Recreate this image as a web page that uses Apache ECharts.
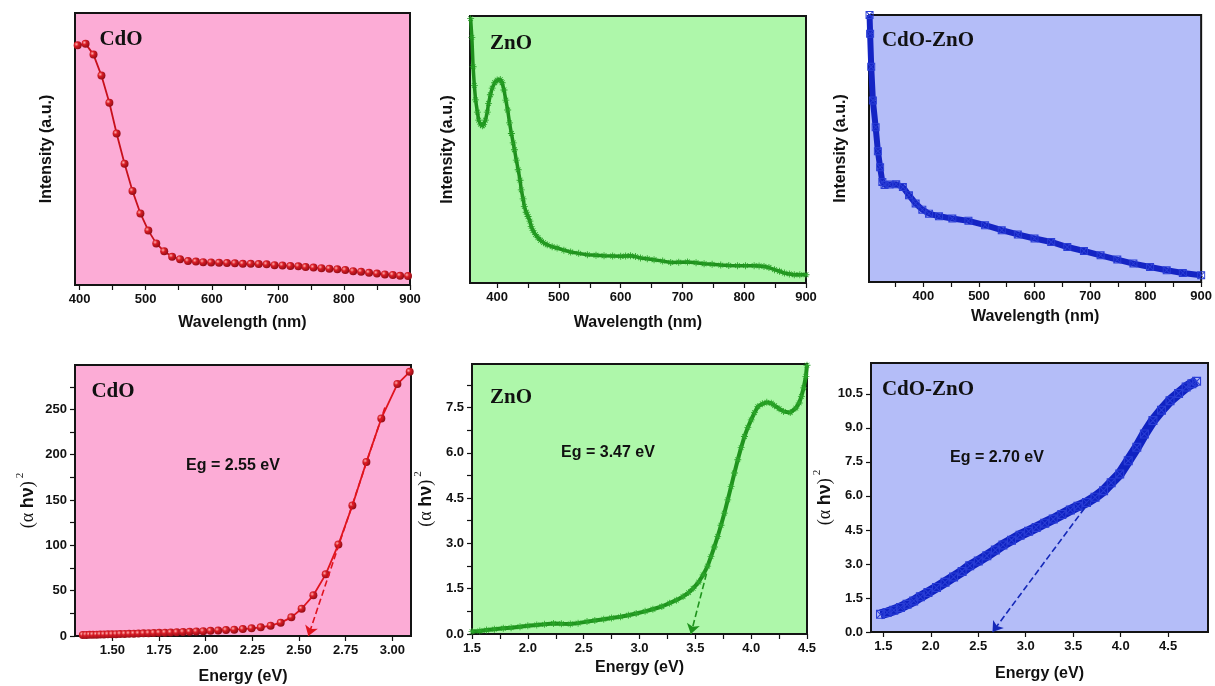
<!DOCTYPE html>
<html>
<head>
<meta charset="utf-8">
<script src="https://cdn.jsdelivr.net/npm/echarts@6/dist/echarts.min.js"></script>
<style>
  html, body { margin: 0; padding: 0; background: #ffffff; }
  #main { width: 1215px; height: 686px; }
</style>
</head>
<body>
<div id="main"></div>
<script>
// ---- top row: absorbance vs wavelength ----
var cdoWave = [397, 409, 421, 433, 445, 456, 468, 480, 492, 504, 516, 528, 540, 552, 564, 576, 587, 599, 611, 623, 635, 647, 659, 671, 683, 695, 707, 719, 731, 742, 754, 766, 778, 790, 802, 814, 826, 838, 850, 862, 874, 885, 897]
var cdoAbs = [88.1, 88.7, 84.7, 77.0, 67.0, 55.7, 44.6, 34.6, 26.3, 20.0, 15.3, 12.4, 10.4, 9.5, 8.8, 8.6, 8.4, 8.3, 8.2, 8.1, 8.0, 7.8, 7.8, 7.7, 7.6, 7.3, 7.2, 7.0, 6.9, 6.6, 6.4, 6.2, 6.0, 5.8, 5.5, 5.1, 4.9, 4.5, 4.2, 3.9, 3.7, 3.4, 3.3]

var znoWave = [357, 359, 361, 363, 365, 368, 370, 373, 376, 378, 381, 384, 386, 389, 392, 396, 400, 405, 408, 411, 414, 417, 420, 423, 426, 428, 431, 434, 437, 439, 442, 444, 447, 450, 453, 455, 458, 462, 466, 470, 475, 481, 489, 497, 508, 519, 532, 546, 560, 573, 587, 600, 608, 616, 624, 632, 643, 654, 668, 681, 694, 708, 722, 735, 748, 762, 775, 789, 802, 816, 824, 832, 840, 849, 857, 865, 873, 881, 890, 900]
var znoAbs = [99, 92, 81, 74, 68.6, 64, 61, 59.5, 58.9, 59.3, 61, 64, 67.3, 70.5, 73, 75, 76, 76.2, 75, 72.3, 68.5, 64.8, 60, 56, 52.5, 49.9, 46, 42.4, 38.5, 34.9, 31.5, 28.7, 26.5, 24.9, 23.2, 21.2, 19.6, 18.1, 17, 16, 15.1, 14.3, 13.6, 13.1, 12.3, 11.6, 11.1, 10.6, 10.4, 10.2, 10.1, 10.0, 10.1, 10.2, 9.9, 9.4, 9.1, 8.7, 8.2, 7.7, 7.8, 7.9, 7.6, 7.2, 7.0, 6.7, 6.6, 6.5, 6.5, 6.5, 6.4, 6.2, 5.8, 5.0, 4.4, 3.7, 3.4, 3.1, 3.1, 3.1]

var mixWave = [303, 304, 306, 309, 314, 318, 322, 326, 330, 339, 351, 363, 374, 386, 398, 410, 428, 452, 481, 511, 541, 570, 600, 630, 659, 689, 719, 749, 778, 808, 838, 867, 900]
var mixAbs = [100, 93, 80.6, 68, 58, 49, 43, 37.5, 36.3, 36.5, 36.6, 35.6, 32.5, 29.4, 27.1, 25.6, 24.6, 23.8, 22.9, 21.3, 19.4, 17.8, 16.3, 15, 13.1, 11.6, 10, 8.4, 6.9, 5.6, 4.4, 3.4, 2.5]

// ---- bottom row: Tauc plots ----
var cdoEnergy = [1.342, 1.360, 1.378, 1.396, 1.416, 1.435, 1.455, 1.476, 1.498, 1.520, 1.542, 1.566, 1.590, 1.615, 1.640, 1.667, 1.694, 1.722, 1.751, 1.782, 1.813, 1.845, 1.879, 1.914, 1.950, 1.987, 2.026, 2.067, 2.109, 2.153, 2.199, 2.246, 2.295, 2.348, 2.402, 2.459, 2.514, 2.577, 2.643, 2.711, 2.786, 2.861, 2.941, 3.027, 3.093]
var cdoTauc = [1.1, 1.2, 1.3, 1.4, 1.5, 1.6, 1.7, 1.8, 1.9, 2.0, 2.2, 2.3, 2.4, 2.6, 2.7, 2.9, 3.1, 3.3, 3.5, 3.7, 3.9, 4.1, 4.4, 4.7, 5.0, 5.3, 5.7, 6.1, 6.5, 7.0, 7.6, 8.5, 9.6, 11.4, 14.7, 20.6, 30.1, 44.9, 68, 101, 144, 192, 240, 278, 291.5]

var znoEnergy = [1.50, 1.57, 1.63, 1.70, 1.78, 1.85, 1.93, 2.00, 2.08, 2.15, 2.23, 2.30, 2.38, 2.45, 2.53, 2.60, 2.68, 2.75, 2.83, 2.90, 2.97, 3.05, 3.12, 3.20, 3.27, 3.33, 3.39, 3.44, 3.48, 3.53, 3.57, 3.61, 3.64, 3.67, 3.70, 3.73, 3.76, 3.79, 3.82, 3.85, 3.88, 3.91, 3.94, 3.97, 4.00, 4.03, 4.06, 4.10, 4.14, 4.18, 4.21, 4.25, 4.29, 4.35, 4.40, 4.43, 4.45, 4.47, 4.49, 4.50]
var znoTauc = [0.08, 0.10, 0.13, 0.16, 0.19, 0.21, 0.24, 0.27, 0.30, 0.32, 0.35, 0.34, 0.33, 0.36, 0.41, 0.45, 0.49, 0.53, 0.57, 0.62, 0.68, 0.75, 0.82, 0.91, 1.02, 1.12, 1.24, 1.37, 1.51, 1.72, 1.96, 2.25, 2.56, 2.88, 3.23, 3.60, 4.00, 4.44, 4.88, 5.33, 5.77, 6.17, 6.54, 6.84, 7.09, 7.33, 7.53, 7.62, 7.67, 7.64, 7.56, 7.46, 7.37, 7.33, 7.48, 7.65, 7.87, 8.15, 8.53, 8.9]

var mixEnergy = [1.47, 1.54, 1.61, 1.68, 1.75, 1.82, 1.89, 1.97, 2.06, 2.15, 2.24, 2.33, 2.41, 2.50, 2.59, 2.68, 2.76, 2.85, 2.94, 3.03, 3.11, 3.20, 3.29, 3.38, 3.47, 3.55, 3.64, 3.73, 3.82, 3.90, 3.99, 4.08, 4.17, 4.25, 4.34, 4.43, 4.52, 4.61, 4.69, 4.75, 4.80]
var mixTauc = [0.78, 0.86, 0.96, 1.08, 1.22, 1.37, 1.55, 1.74, 1.96, 2.19, 2.43, 2.67, 2.92, 3.13, 3.36, 3.61, 3.84, 4.05, 4.27, 4.44, 4.61, 4.80, 4.98, 5.18, 5.38, 5.54, 5.71, 5.94, 6.23, 6.58, 6.97, 7.55, 8.14, 8.73, 9.32, 9.78, 10.2, 10.52, 10.8, 10.95, 11.05]

// band-gap extrapolation arrows [from, to]
var cdoGapLine = [[2.96, 252], [2.55, 0]]
var znoGapLine = [[3.60, 2.0], [3.46, 0]]
var mixGapLine = [[3.68, 5.8], [2.65, 0]]

// tick values and labels
var cdoWaveTicks = [400, 450, 500, 550, 600, 650, 700, 750, 800, 850, 900]
var cdoWaveLabels = [400, 500, 600, 700, 800, 900]
var znoWaveTicks = [400, 450, 500, 550, 600, 650, 700, 750, 800, 850, 900]
var znoWaveLabels = [400, 500, 600, 700, 800, 900]
var mixWaveTicks = [350, 400, 450, 500, 550, 600, 650, 700, 750, 800, 850, 900]
var mixWaveLabels = [400, 500, 600, 700, 800, 900]
var cdoEnergyLabels = [1.50, 1.75, 2.00, 2.25, 2.50, 2.75, 3.00]
var cdoTaucTicks = [0, 25, 50, 75, 100, 125, 150, 175, 200, 225, 250, 275]
var cdoTaucLabels = [0, 50, 100, 150, 200, 250]
var znoEnergyTicks = [1.5, 1.75, 2.0, 2.25, 2.5, 2.75, 3.0, 3.25, 3.5, 3.75, 4.0, 4.25, 4.5]
var znoEnergyLabels = [1.5, 2.0, 2.5, 3.0, 3.5, 4.0, 4.5]
var znoTaucTicks = [0, 0.75, 1.5, 2.25, 3.0, 3.75, 4.5, 5.25, 6.0, 6.75, 7.5, 8.25]
var znoTaucLabels = [0, 1.5, 3.0, 4.5, 6.0, 7.5]
var mixEnergyLabels = [1.5, 2.0, 2.5, 3.0, 3.5, 4.0, 4.5]
var mixTaucLabels = [0, 1.5, 3.0, 4.5, 6.0, 7.5, 9.0, 10.5]

function zip (xs, ys) {
  return xs.map(function (x, i) { return [x, ys[i]] })
}

var sansBold = { fontFamily: 'Liberation Sans, Arial', fontWeight: 'bold', color: '#111' }

function xAxisOf (idx, min, max, ticks, labels, digits, name, gap) {
  return {
    type: 'value', gridIndex: idx, min: min, max: max,
    name: name, nameLocation: 'middle', nameGap: gap,
    nameTextStyle: Object.assign({ fontSize: 16 }, sansBold),
    axisLine: { show: false },
    splitLine: { show: false },
    axisTick: { show: true, length: 5, customValues: ticks, lineStyle: { color: '#111', width: 1.2 } },
    axisLabel: {
      fontSize: 13, margin: 8, customValues: labels,
      fontFamily: sansBold.fontFamily, fontWeight: 'bold', color: '#111',
      formatter: function (v) { return digits < 0 ? String(v) : v.toFixed(digits) }
    }
  }
}

function yAxisOf (idx, min, max, ticks, labels, digits, name, gap, rich) {
  var ax = {
    type: 'value', gridIndex: idx, min: min, max: max,
    name: name, nameLocation: 'middle', nameGap: gap, nameRotate: 90,
    axisLine: { show: false },
    splitLine: { show: false }
  }
  if (rich) {
    ax.nameTextStyle = {
      fontFamily: 'Liberation Serif, Times New Roman', fontSize: 18, color: '#111',
      rich: {
        g: { fontFamily: 'Liberation Serif', fontSize: 18, color: '#111' },
        hv: { fontFamily: 'Liberation Sans', fontWeight: 'bold', fontSize: 18, color: '#111' },
        sup: { fontFamily: 'Liberation Serif', fontSize: 11, color: '#111', verticalAlign: 'top', padding: [0, 0, 16, 3] }
      }
    }
  } else {
    ax.nameTextStyle = Object.assign({ fontSize: 16 }, sansBold)
  }
  if (ticks) {
    ax.axisTick = { show: true, length: 5, customValues: ticks, lineStyle: { color: '#111', width: 1.2 } }
    ax.axisLabel = {
      fontSize: 13, margin: 8, customValues: labels,
      fontFamily: sansBold.fontFamily, fontWeight: 'bold', color: '#111',
      formatter: function (v) { return digits < 0 ? String(v) : v.toFixed(digits) }
    }
  } else {
    ax.axisTick = { show: false }
    ax.axisLabel = { show: false }
  }
  return ax
}

var border = { show: true, borderColor: '#141414', borderWidth: 2 }
var grids = [
  Object.assign({ left: 75, top: 13, width: 335, height: 272, backgroundColor: '#fcacd6' }, border),
  Object.assign({ left: 470, top: 16, width: 336, height: 267, backgroundColor: '#aef7aa' }, border),
  Object.assign({ left: 869, top: 15, width: 337, height: 267, backgroundColor: '#b4bdf8' }, border),
  Object.assign({ left: 75, top: 365, width: 336, height: 271, backgroundColor: '#fcacd6' }, border),
  Object.assign({ left: 472, top: 364, width: 335, height: 270, backgroundColor: '#aef7aa' }, border),
  Object.assign({ left: 871, top: 363, width: 337, height: 269, backgroundColor: '#b4bdf8' }, border)
]

var tauName = '{g|(α }{hv|hν}{g|)}{sup|2}'

var ballColor = {
  type: 'radial', x: 0.35, y: 0.35, r: 0.75,
  colorStops: [
    { offset: 0, color: '#ffb0b0' },
    { offset: 0.35, color: '#d81c26' },
    { offset: 1, color: '#860a12' }
  ]
}
var starPath = 'path://M4.4,0h1.2v10h-1.2z M0,4.4h10v1.2h-10z M1.2,2.0l0.8,-0.8l6.8,6.8l-0.8,0.8z M8,1.2l0.8,0.8l-6.8,6.8l-0.8,-0.8z'
var boxXPath = 'path://M0,0h10v10h-10z M1.2,1.2v7.6h7.6v-7.6z M1.8,1l7.2,7.2l-0.8,0.8l-7.2,-7.2z M8.2,1l0.8,0.8l-7.2,7.2l-0.8,-0.8z'

function gapArrow (pair, color) {
  return {
    silent: true,
    symbol: ['none', 'arrow'],
    symbolSize: 10,
    label: { show: false },
    lineStyle: { type: 'dashed', color: color, width: 1.6 },
    data: [[{ coord: pair[0] }, { coord: pair[1] }]]
  }
}

function panelText (x, y, text, serif) {
  return {
    type: 'text', x: x, y: y, silent: true,
    style: {
      text: text,
      fontFamily: serif ? 'Liberation Serif, Times New Roman' : 'Liberation Sans, Arial',
      fontWeight: 'bold', fontSize: serif ? 21 : 16, fill: '#111',
      align: 'center', verticalAlign: 'middle'
    }
  }
}

var chart = echarts.init(document.getElementById('main'))
chart.setOption({
  animation: false,
  grid: grids,
  xAxis: [
    xAxisOf(0, 393, 900, cdoWaveTicks, cdoWaveLabels, -1, 'Wavelength (nm)', 30),
    xAxisOf(1, 356, 900, znoWaveTicks, znoWaveLabels, -1, 'Wavelength (nm)', 32),
    xAxisOf(2, 302, 900, mixWaveTicks, mixWaveLabels, -1, 'Wavelength (nm)', 27),
    xAxisOf(3, 1.30, 3.10, cdoEnergyLabels, cdoEnergyLabels, 2, 'Energy (eV)', 33),
    xAxisOf(4, 1.5, 4.5, znoEnergyTicks, znoEnergyLabels, 1, 'Energy (eV)', 26),
    xAxisOf(5, 1.37, 4.92, mixEnergyLabels, mixEnergyLabels, 1, 'Energy (eV)', 34)
  ],
  yAxis: [
    yAxisOf(0, 0, 100, null, null, 0, 'Intensity (a.u.)', 20, false),
    yAxisOf(1, 0, 100, null, null, 0, 'Intensity (a.u.)', 14, false),
    yAxisOf(2, 0, 100, null, null, 0, 'Intensity (a.u.)', 20, false),
    yAxisOf(3, 0, 299, cdoTaucTicks, cdoTaucLabels, -1, tauName, 33, true),
    yAxisOf(4, 0, 8.94, znoTaucTicks, znoTaucLabels, 1, tauName, 32, true),
    yAxisOf(5, 0, 11.86, mixTaucLabels, mixTaucLabels, 1, tauName, 29, true)
  ],
  series: [
    {
      type: 'line', xAxisIndex: 0, yAxisIndex: 0, data: zip(cdoWave, cdoAbs),
      symbol: 'circle', symbolSize: 8, itemStyle: { color: ballColor },
      lineStyle: { color: '#c8101c', width: 1.8 }
    },
    {
      type: 'line', xAxisIndex: 1, yAxisIndex: 1, data: zip(znoWave, znoAbs),
      symbol: starPath, symbolSize: 7, itemStyle: { color: '#249c22' },
      lineStyle: { color: '#1f8f1d', width: 3.5 }
    },
    {
      type: 'line', xAxisIndex: 2, yAxisIndex: 2, data: zip(mixWave, mixAbs),
      symbol: boxXPath, symbolSize: 8, itemStyle: { color: '#2a3ed6' },
      lineStyle: { color: '#1424c4', width: 6 }
    },
    {
      type: 'line', xAxisIndex: 3, yAxisIndex: 3, data: zip(cdoEnergy, cdoTauc),
      symbol: 'circle', symbolSize: 8, itemStyle: { color: ballColor },
      lineStyle: { color: '#e0141e', width: 1.8 },
      markLine: gapArrow(cdoGapLine, '#e0141e')
    },
    {
      type: 'line', xAxisIndex: 4, yAxisIndex: 4, data: zip(znoEnergy, znoTauc),
      symbol: starPath, symbolSize: 7, itemStyle: { color: '#2aa428' },
      lineStyle: { color: '#1f931d', width: 4 },
      markLine: gapArrow(znoGapLine, '#1f931d')
    },
    {
      type: 'line', xAxisIndex: 5, yAxisIndex: 5, data: zip(mixEnergy, mixTauc),
      symbol: boxXPath, symbolSize: 9, itemStyle: { color: '#2a3ed6' },
      lineStyle: { color: '#0f22c2', width: 10 },
      markLine: gapArrow(mixGapLine, '#1428b8')
    }
  ],
  graphic: [
    panelText(121, 40, 'CdO', true),
    panelText(511, 44, 'ZnO', true),
    panelText(928, 41, 'CdO-ZnO', true),
    panelText(113, 392, 'CdO', true),
    panelText(511, 398, 'ZnO', true),
    panelText(928, 390, 'CdO-ZnO', true),
    panelText(233, 466, 'Eg = 2.55 eV', false),
    panelText(608, 453, 'Eg = 3.47 eV', false),
    panelText(997, 458, 'Eg = 2.70 eV', false)
  ]
})
</script>
</body>
</html>
